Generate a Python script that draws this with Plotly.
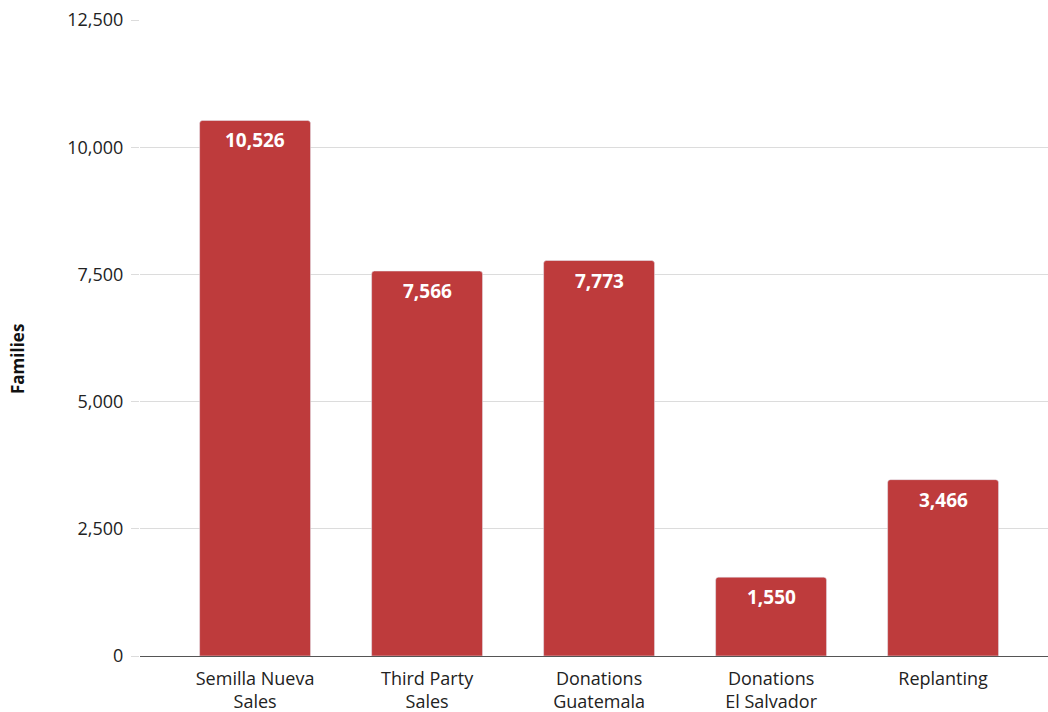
import plotly.graph_objects as go

categories = ["Semilla Nueva<br>Sales", "Third Party<br>Sales", "Donations<br>Guatemala", "Donations<br>El Salvador", "Replanting"]
values = [10526, 7566, 7773, 1550, 3466]
tick_vals = [0, 2500, 5000, 7500, 10000, 12500]
tick_text = ["0", "2,500", "5,000", "7,500", "10,000", "12,500"]

xs = list(range(len(categories)))

fig = go.Figure(go.Bar(
    x=xs,
    y=values,
    marker=dict(color="#BE3B3C", cornerradius=3),
    hoverinfo="x+y",
))

for x, v in zip(xs, values):
    fig.add_annotation(
        x=x, y=v, xref="x", yref="y", text=f"<b>{v:,}</b>", showarrow=False,
        yanchor="middle", yshift=-20,
        font=dict(family="Open Sans", size=19, color="white"),
    )

fig.add_annotation(
    x=(18 - 140) / (1048 - 140), xref="paper", y=0.467, yref="paper",
    text="<b>Families</b>", showarrow=False,
    textangle=-90, font=dict(family="Open Sans", size=17, color="#111"),
    xanchor="center", yanchor="middle",
)

fig.update_layout(
    width=1048, height=712,
    margin=dict(l=140, r=0, t=20, b=56),
    plot_bgcolor="white", paper_bgcolor="white",
    bargap=0.355,
    showlegend=False,
    font=dict(family="Open Sans", size=18, color="#222"),
    xaxis=dict(
        tickmode="array", tickvals=xs, ticktext=categories,
        range=[-0.669, 4.61], showline=True, linecolor="#555", linewidth=1,
        showgrid=False, ticks="", tickfont=dict(size=18, color="#222"),
        ticklabelstandoff=6,
    ),
    yaxis=dict(
        range=[0, 12500], tickmode="array", tickvals=tick_vals, ticktext=tick_text,
        showgrid=True, gridcolor="#dcdcdc", gridwidth=1, zeroline=False,
        ticks="outside", ticklen=8, tickcolor="#dcdcdc",
        tickfont=dict(size=18, color="#222"), ticklabelstandoff=4,
    ),
)

fig.write_html("out.html")
